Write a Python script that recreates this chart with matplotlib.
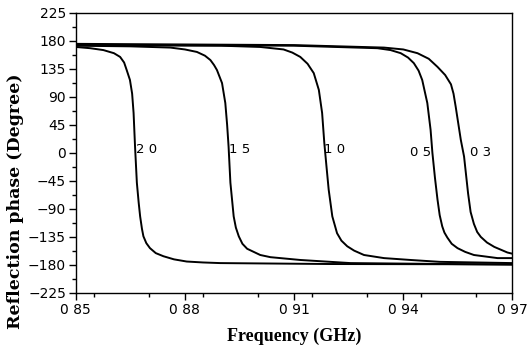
import matplotlib
matplotlib.use("Agg")
import matplotlib.pyplot as plt
from matplotlib.ticker import MultipleLocator

# Data (frequency GHz, phase degrees)
f_20 = [0.850, 0.854, 0.8576, 0.8605, 0.8622, 0.8633, 0.8640, 0.8649, 0.8655, 0.8659,
        0.8663, 0.8668, 0.8673, 0.8677, 0.8682, 0.8686, 0.8694, 0.8704, 0.872, 0.8741,
        0.877, 0.8805, 0.885, 0.8897, 0.920, 0.970]
p_20 = [170, 168, 165, 160, 154, 145, 133, 117, 95, 64,
        10, -48, -80, -102, -122, -134, -145, -153, -161, -166,
        -171, -174.5, -176, -177, -178.5, -179]

f_15 = [0.850, 0.865, 0.876, 0.880, 0.8833, 0.8855, 0.887, 0.888, 0.8888, 0.8902,
        0.8911, 0.8916, 0.8920, 0.8925, 0.8934, 0.8940, 0.8948, 0.8958, 0.8971, 0.9007,
        0.9035, 0.9117, 0.9255, 0.970]
p_15 = [172, 171, 169, 166, 162, 156, 149, 141, 133, 112,
        80, 45, 10, -48, -102, -120, -134, -146, -154, -164,
        -167.5, -172, -177, -179.5]

f_10 = [0.850, 0.890, 0.9007, 0.9071, 0.9095, 0.9117, 0.9137, 0.9154, 0.9168, 0.9177,
        0.9183, 0.9189, 0.9195, 0.9205, 0.9218, 0.9230, 0.9246, 0.9265, 0.9292, 0.9347,
        0.942, 0.950, 0.970]
p_10 = [173, 172, 170, 166, 161, 154, 143, 128, 101, 64,
        16, -22, -59, -102, -129, -141, -150, -157, -164, -169,
        -172, -175, -177]

f_05 = [0.850, 0.910, 0.9329, 0.9365, 0.9393, 0.9413, 0.9429, 0.9442, 0.9452, 0.9466,
        0.9475, 0.9480, 0.9487, 0.9494, 0.9500, 0.9507, 0.9513, 0.9521, 0.9533, 0.9549,
        0.9570, 0.9594, 0.9659, 0.970]
p_05 = [173.5, 172, 168, 165, 160, 153, 144, 132, 117, 80,
        37, 0, -40, -75, -100, -118, -128, -136, -146, -153,
        -159, -164, -169, -169]

f_03 = [0.850, 0.910, 0.9347, 0.9400, 0.9439, 0.9470, 0.9494, 0.9515, 0.9531, 0.9538,
        0.9544, 0.9558, 0.9567, 0.9578, 0.9585, 0.9594, 0.9603, 0.9613, 0.9630, 0.9650,
        0.9686, 0.970]
p_03 = [175, 173, 169, 166, 160, 151, 138, 125, 110, 95,
        74, 21, -6, -65, -95, -114, -127, -135, -144, -151,
        -160, -162]

labels = ["2 0", "1 5", "1 0", "0 5", "0 3"]
label_x = [0.8666, 0.8921, 0.9183, 0.9418, 0.9583]
label_y = [5, 5, 5, 0, 0]

x_ticks = [0.85, 0.88, 0.91, 0.94, 0.97]
x_ticklabels = ["0 85", "0 88", "0 91", "0 94", "0 97"]
y_ticks = [225, 180, 135, 90, 45, 0, -45, -90, -135, -180, -225]

fig = plt.figure(figsize=(5.28, 3.49), dpi=100)
ax = fig.add_axes([0.1434, 0.1605, 0.8272, 0.8031])

for f, p in [(f_20, p_20), (f_15, p_15), (f_10, p_10), (f_05, p_05), (f_03, p_03)]:
    ax.plot(f, p, color="black", lw=1.4, solid_joinstyle="round")

for t, x, y in zip(labels, label_x, label_y):
    ax.text(x, y, t, fontsize=9.5, family="DejaVu Sans", ha="left", va="center")

ax.set_xlim(0.85, 0.97)
ax.set_ylim(-225, 225)
ax.set_xticks(x_ticks)
ax.set_xticklabels(x_ticklabels)
ax.set_yticks(y_ticks)
ax.xaxis.set_minor_locator(MultipleLocator(0.015))
ax.yaxis.set_minor_locator(MultipleLocator(22.5))
ax.tick_params(axis="both", which="major", direction="out", length=5, width=1,
               labelsize=10, pad=2)
ax.tick_params(axis="both", which="minor", direction="out", length=3, width=1)
for lab in ax.get_xticklabels() + ax.get_yticklabels():
    lab.set_family("DejaVu Sans")
for s in ax.spines.values():
    s.set_linewidth(1.0)

ax.set_xlabel("Frequency (GHz)", family="Liberation Serif", fontweight="bold",
              fontsize=13, labelpad=8)
fig.text(0.030, 0.424, "Reflection phase (Degree)", family="DejaVu Serif",
         fontweight="bold", fontsize=12.5, rotation=90, ha="center", va="center")

fig.savefig("out.png", dpi=100)
